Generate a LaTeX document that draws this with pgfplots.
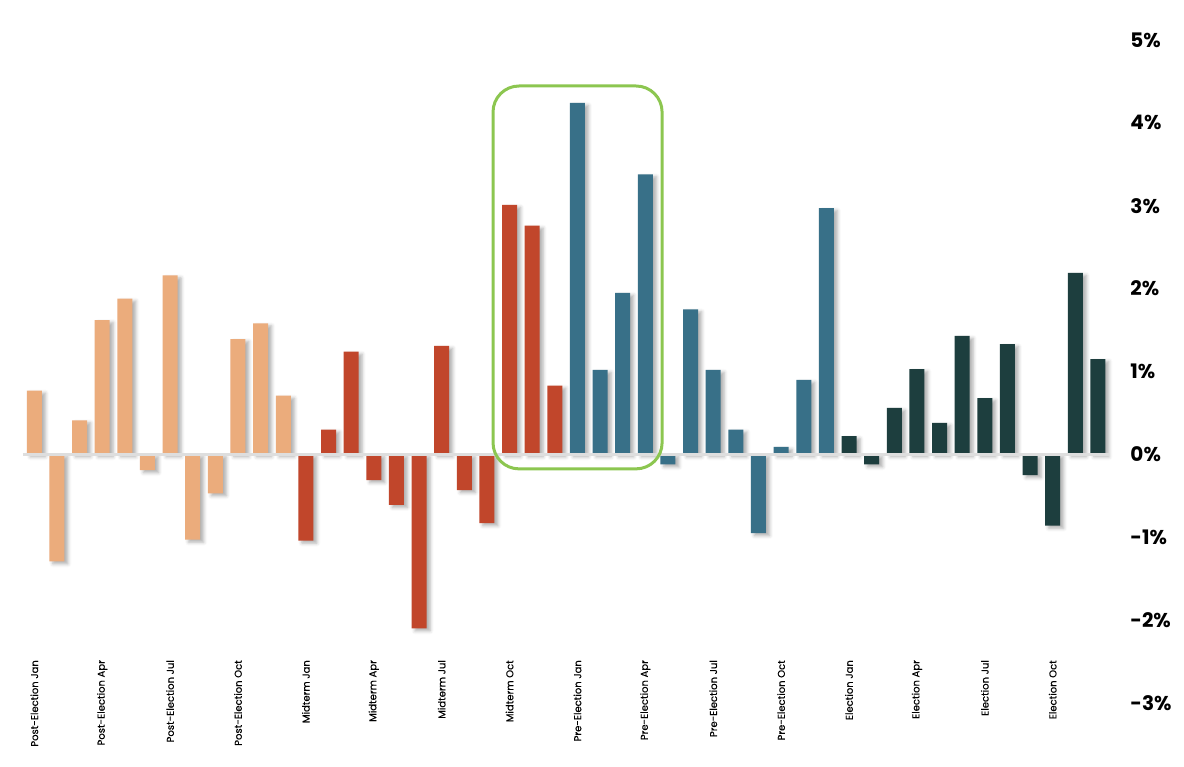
\documentclass[border=0pt]{standalone}
\usepackage{fontspec}
\setmainfont{Poppins}
\newfontfamily\labelfont[FakeBold=0.35]{Poppins}
\usepackage{pgfplots}
\pgfplotsset{compat=1.18}
\usetikzlibrary{shadows.blur}
\definecolor{cPost}{RGB}{235,172,124}
\definecolor{cMid}{RGB}{193,70,43}
\definecolor{cPre}{RGB}{56,112,136}
\definecolor{cEl}{RGB}{29,62,62}
\definecolor{cBox}{RGB}{140,198,80}
\begin{document}
\begin{tikzpicture}
\begin{axis}[
  scale only axis, width=1086.3pt, height=663pt,
  xmin=0.5, xmax=48.5, ymin=-3, ymax=5,
  axis x line*=bottom, axis y line*=right,
  axis line style={draw=none},
  tick style={draw=none}, major tick length=0pt,
  ytick={-3,-2,-1,0,1,2,3,4,5},
  yticklabels={-3\%,-2\%,-1\%,0\%,1\%,2\%,3\%,4\%,5\%},
  yticklabel style={anchor=west, inner sep=0pt, xshift=21pt, font=\fontsize{20}{20}\selectfont\bfseries},
  xtick={1,4,7,10,13,16,19,22,25,28,31,34,37,40,43,46},
  xticklabels={Post-Election Jan,Post-Election Apr,Post-Election Jul,Post-Election Oct,
    Midterm Jan,Midterm Apr,Midterm Jul,Midterm Oct,
    Pre-Election Jan,Pre-Election Apr,Pre-Election Jul,Pre-Election Oct,
    Election Jan,Election Apr,Election Jul,Election Oct},
  xticklabel style={rotate=90, anchor=east, inner sep=0pt, font=\labelfont\fontsize{10}{10}\selectfont},
  xticklabel shift=-43pt,
  clip=false,
  every axis plot/.append style={ybar, bar width=15pt, draw=none,
    blur shadow={shadow xshift=3.5pt, shadow yshift=-2.5pt, shadow blur radius=3.5pt, shadow opacity=32}},
]
\addplot[fill=cPost] coordinates {
 (1,0.77) (2,-1.29) (3,0.41) (4,1.62) (5,1.88) (6,-0.19)
 (7,2.16) (8,-1.03) (9,-0.47) (10,1.39) (11,1.58) (12,0.71)};
\addplot[fill=cMid] coordinates {
 (13,-1.04) (14,0.30) (15,1.24) (16,-0.31) (17,-0.61) (18,-2.10)
 (19,1.31) (20,-0.43) (21,-0.83) (22,3.01) (23,2.76) (24,0.83)};
\addplot[fill=cPre] coordinates {
 (25,4.24) (26,1.02) (27,1.95) (28,3.38) (29,-0.12) (30,1.75)
 (31,1.02) (32,0.30) (33,-0.95) (34,0.09) (35,0.90) (36,2.97)};
\addplot[fill=cEl] coordinates {
 (37,0.22) (38,-0.12) (39,0.56) (40,1.03) (41,0.38) (42,1.43)
 (43,0.68) (44,1.33) (45,-0.25) (46,-0.86) (47,2.19) (48,1.15)};
\draw[black!13, line width=2.5pt] (axis cs:0.5,0) -- (axis cs:48.5,0);
\draw[cBox, line width=3pt, rounded corners=26pt] (axis cs:21.27,-0.175) rectangle (axis cs:28.74,4.445);
\coordinate (bbSW) at (rel axis cs:0,0);
\end{axis}
\pgfresetboundingbox
\path[use as bounding box] ([xshift=-23pt,yshift=-64pt]bbSW) rectangle ++(1184pt,767pt);
\end{tikzpicture}
\end{document}
